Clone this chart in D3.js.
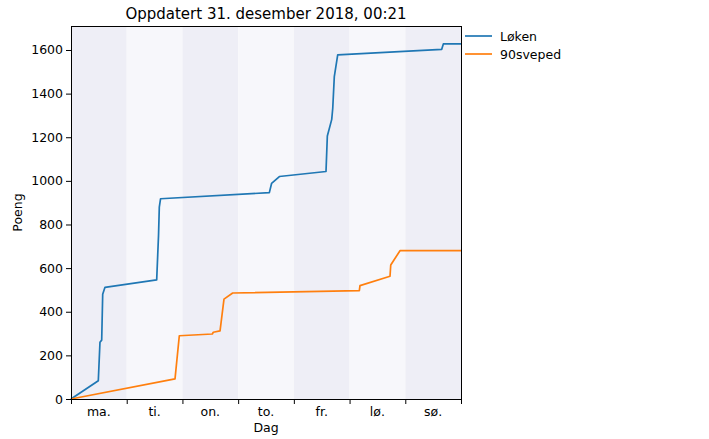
<!DOCTYPE html>
<html><head><meta charset="utf-8">
<script src="https://cdn.jsdelivr.net/npm/d3@7"></script>
<style>body{margin:0;background:#fff;} text{font-family:"DejaVu Sans",sans-serif;fill:#000;}</style>
</head><body><svg id="c" width="709" height="439"></svg>
<script>
const title = "Oppdatert 31. desember 2018, 00:21";
const days = ["ma.","ti.","on.","to.","fr.","lø.","sø."];
const yTicks = [0,200,400,600,800,1000,1200,1400,1600];
const seriesNames = ["Løken","90sveped"];
const colors = ["#1f77b4","#ff7f0e"];
// x in days since Monday 00:00, y = points
const lokenX = [0,0.49,0.52,0.551,0.569,0.61,1.538,1.571,1.585,1.607,3.56,3.60,3.74,4.577,4.601,4.680,4.698,4.726,4.787,6.654,6.683,7];
const lokenY = [0,84,260,270,480,512,546,750,880,918,946,988,1020,1043,1206,1282,1333,1478,1578,1603,1628,1628];
const svepX = [0,1.867,1.944,2.536,2.554,2.675,2.746,2.902,5.175,5.187,5.726,5.739,5.905,7];
const svepY = [0,92,290,298,306,312,458,486,497,520,563,614,680,680];

const svg = d3.select("#c");
const L=71,R=461,T=26,B=399;
const x = d3.scaleLinear().domain([0,7]).range([L,R]);
const y = d3.scaleLinear().domain([0,1710]).range([B,T]);

// day bands
svg.selectAll("rect.band").data(days).enter().append("rect")
  .attr("x",(d,i)=>x(i)).attr("y",T).attr("width",(d,i)=>x(i+1)-x(i)).attr("height",B-T)
  .attr("fill",(d,i)=>i%2===0?"#eeeef6":"#f7f7fb");

const line = d3.line().x(d=>x(d[0])).y(d=>y(d[1]));
const data = [d3.zip(lokenX,lokenY), d3.zip(svepX,svepY)];
data.forEach((d,i)=>{
  svg.append("path").attr("d",line(d)).attr("fill","none").attr("stroke",colors[i])
    .attr("stroke-width",1.7).attr("stroke-linejoin","round");
});

// axes
const yAxis = d3.axisLeft(y).tickValues(yTicks).tickSize(5).tickPadding(3).tickFormat(d3.format("d"));
const gy = svg.append("g").attr("transform",`translate(${L},0)`).call(yAxis);
gy.select(".domain").remove();
gy.selectAll("text").style("font-size","12.5px").attr("fill","#000");
gy.selectAll("line").attr("stroke","#000");

const xAxis = d3.axisBottom(x).tickValues(d3.range(8)).tickSize(5).tickFormat("");
const gx = svg.append("g").attr("transform",`translate(0,${B})`).call(xAxis);
gx.select(".domain").remove();
gx.selectAll("line").attr("stroke","#000");
svg.selectAll("text.day").data(days).enter().append("text")
  .attr("x",(d,i)=>x(i+0.5)).attr("y",B+17).attr("text-anchor","middle")
  .style("font-size","12.5px").text(d=>d);

// frame
svg.append("rect").attr("x",L).attr("y",T).attr("width",R-L).attr("height",B-T)
  .attr("fill","none").attr("stroke","#000").attr("stroke-width",1).attr("shape-rendering","crispEdges");

svg.append("text").attr("x",(L+R)/2).attr("y",19).attr("text-anchor","middle")
  .style("font-size","15px").text(title);
svg.append("text").attr("x",(L+R)/2).attr("y",432).attr("text-anchor","middle")
  .style("font-size","12.5px").text("Dag");
svg.append("text").attr("transform",`translate(22,${(T+B)/2}) rotate(-90)`).attr("text-anchor","middle")
  .style("font-size","12.5px").text("Poeng");

// legend
seriesNames.forEach((n,i)=>{
  const ly = 36 + i*18;
  svg.append("line").attr("x1",465).attr("x2",492).attr("y1",ly).attr("y2",ly)
    .attr("stroke",colors[i]).attr("stroke-width",1.7);
  svg.append("text").attr("x",500).attr("y",ly+4.5).style("font-size","12.5px").text(n);
});
</script></body></html>
